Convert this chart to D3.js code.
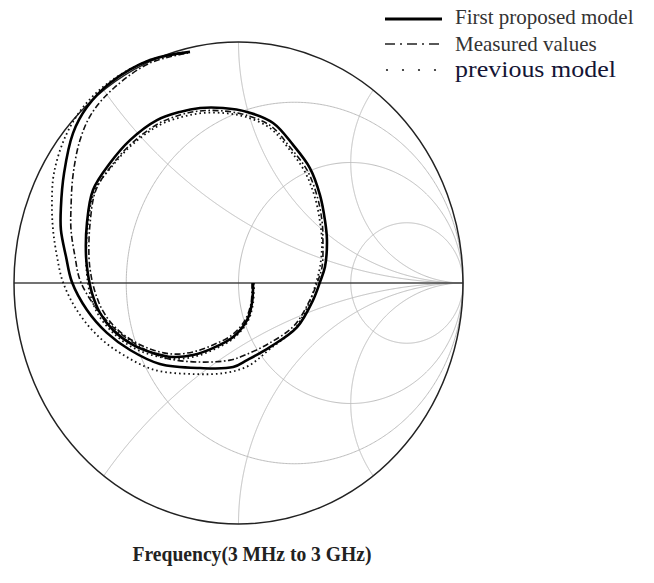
<!DOCTYPE html>
<html><head><meta charset="utf-8">
<script src="https://cdn.jsdelivr.net/npm/d3@7"></script>
<style>body{margin:0;background:#fff}svg{display:block}</style>
</head><body>
<svg id="c" width="654" height="583"></svg>
<script>
// ---- grid values (normalized impedance) ----
const resistanceValues = [1/3, 1, 3];
const reactanceValues = [0.5, 1, 2, -0.5, -1, -2];

// ---- legend / title text ----
const seriesNames = ["First proposed model", "Measured values", "previous model"];
const titleText = "Frequency(3 MHz to 3 GHz)";

// ---- reflection coefficient samples [Re(Γ), Im(Γ)], 3 MHz -> 3 GHz ----
const proposedModel = [
 [0.065,0.000],[0.060,-0.083],[0.038,-0.154],[-0.024,-0.224],[-0.114,-0.270],[-0.203,-0.299],
 [-0.292,-0.307],[-0.381,-0.290],[-0.470,-0.257],[-0.559,-0.195],[-0.617,-0.124],[-0.653,-0.041],
 [-0.670,0.033],[-0.679,0.108],[-0.675,0.249],[-0.648,0.386],[-0.572,0.498],[-0.483,0.593],
 [-0.363,0.676],[-0.261,0.710],[-0.171,0.726],[-0.069,0.726],[0.038,0.710],[0.154,0.664],
 [0.243,0.573],[0.318,0.477],[0.363,0.365],[0.385,0.261],[0.394,0.178],[0.385,0.066],
 [0.363,0.004],[0.332,-0.071],[0.261,-0.183],[0.140,-0.266],[0.038,-0.320],[-0.024,-0.349],
 [-0.171,-0.353],[-0.350,-0.336],[-0.483,-0.278],[-0.586,-0.207],[-0.675,-0.112],[-0.742,0.004],
 [-0.768,0.108],[-0.791,0.220],[-0.791,0.315],[-0.777,0.456],[-0.737,0.622],[-0.675,0.730],
 [-0.572,0.830],[-0.394,0.925],[-0.216,0.959]
];
const measuredValues = [
 [0.060,0.000],[0.056,-0.083],[0.029,-0.154],[-0.029,-0.216],[-0.114,-0.257],[-0.203,-0.286],
 [-0.292,-0.295],[-0.381,-0.278],[-0.461,-0.245],[-0.546,-0.187],[-0.604,-0.116],[-0.639,-0.037],
 [-0.657,0.033],[-0.666,0.108],[-0.661,0.249],[-0.635,0.386],[-0.563,0.490],[-0.474,0.581],
 [-0.359,0.660],[-0.261,0.697],[-0.171,0.714],[-0.069,0.714],[0.033,0.697],[0.145,0.651],
 [0.229,0.564],[0.305,0.469],[0.350,0.361],[0.372,0.257],[0.376,0.178],[0.372,0.066],
 [0.350,0.000],[0.318,-0.071],[0.247,-0.178],[0.131,-0.253],[0.029,-0.299],[-0.038,-0.320],
 [-0.171,-0.328],[-0.327,-0.311],[-0.452,-0.257],[-0.554,-0.187],[-0.644,-0.091],[-0.706,0.012],
 [-0.728,0.108],[-0.746,0.220],[-0.746,0.315],[-0.737,0.448],[-0.706,0.593],[-0.653,0.705],
 [-0.555,0.809],[-0.394,0.913],[-0.225,0.954]
];
const previousModel = [
 [0.069,0.000],[0.065,-0.083],[0.042,-0.158],[-0.020,-0.228],[-0.114,-0.278],[-0.203,-0.307],
 [-0.292,-0.315],[-0.385,-0.299],[-0.474,-0.266],[-0.563,-0.203],[-0.626,-0.129],[-0.661,-0.046],
 [-0.675,0.033],[-0.679,0.108],[-0.670,0.249],[-0.639,0.386],[-0.563,0.485],[-0.470,0.577],
 [-0.350,0.656],[-0.252,0.689],[-0.163,0.705],[-0.065,0.705],[0.033,0.689],[0.140,0.643],
 [0.225,0.556],[0.296,0.461],[0.341,0.353],[0.363,0.253],[0.372,0.170],[0.363,0.066],
 [0.345,0.000],[0.318,-0.075],[0.252,-0.187],[0.140,-0.274],[0.042,-0.345],[-0.060,-0.373],
 [-0.194,-0.378],[-0.372,-0.361],[-0.505,-0.303],[-0.617,-0.228],[-0.715,-0.120],[-0.782,0.004],
 [-0.808,0.108],[-0.826,0.220],[-0.831,0.324],[-0.822,0.456],[-0.768,0.614],[-0.684,0.739],
 [-0.563,0.842],[-0.394,0.925],[-0.225,0.959]
];

const svg = d3.select("#c");
const x = d3.scaleLinear().domain([-1, 1]).range([14, 463]);
const y = d3.scaleLinear().domain([-1, 1]).range([524, 42]);
const line = d3.line().x(d => x(d[0])).y(d => y(d[1]));

function gammaOf(r, xx) {
  const den = (r + 1) * (r + 1) + xx * xx;
  return [(r * r - 1 + xx * xx) / den, (2 * xx) / den];
}

const grid = svg.append("g").attr("fill", "none").attr("stroke", "#bdbdbd").attr("stroke-width", 1);
// constant resistance circles
resistanceValues.forEach(r => {
  const pts = d3.range(0, 721).map(i => {
    const t = i / 720 * 2 * Math.PI;
    return [r / (1 + r) + Math.cos(t) / (1 + r), Math.sin(t) / (1 + r)];
  });
  grid.append("path").attr("d", line(pts));
});
// constant reactance arcs
reactanceValues.forEach(xv => {
  const pts = d3.range(0, 600).map(i => {
    const th = i / 600 * (Math.PI / 2 - 0.0005);
    return gammaOf(Math.tan(th), xv);
  });
  pts.push([1, 0]);
  grid.append("path").attr("d", line(pts));
});

// real axis
svg.append("line").attr("x1", x(-1)).attr("x2", x(1)).attr("y1", y(0)).attr("y2", y(0))
  .attr("stroke", "#444").attr("stroke-width", 1.5);
// outer boundary |Γ| = 1
svg.append("ellipse").attr("cx", x(0)).attr("cy", y(0))
  .attr("rx", x(1) - x(0)).attr("ry", y(-1) - y(0))
  .attr("fill", "none").attr("stroke", "#222").attr("stroke-width", 1.5);

const curve = d3.line().x(d => x(d[0])).y(d => y(d[1])).curve(d3.curveCatmullRom.alpha(0.5));
svg.append("path").attr("d", curve(previousModel)).attr("fill", "none")
  .attr("stroke", "#111").attr("stroke-width", 1.8).attr("stroke-dasharray", "1.6,3");
svg.append("path").attr("d", curve(measuredValues)).attr("fill", "none")
  .attr("stroke", "#111").attr("stroke-width", 1.6).attr("stroke-dasharray", "6,2.5,1.6,2.5");
svg.append("path").attr("d", curve(proposedModel)).attr("fill", "none")
  .attr("stroke", "#000").attr("stroke-width", 2.6).attr("stroke-linejoin", "round");

// legend
const lg = svg.append("g");
lg.append("line").attr("x1", 385).attr("x2", 442).attr("y1", 19).attr("y2", 19)
  .attr("stroke", "#000").attr("stroke-width", 3);
lg.append("line").attr("x1", 385).attr("x2", 442).attr("y1", 44).attr("y2", 44)
  .attr("stroke", "#222").attr("stroke-width", 1.3).attr("stroke-dasharray", "10,5,2,5");
[387, 403, 419, 435].forEach(cx => lg.append("circle").attr("cx", cx).attr("cy", 70).attr("r", 1.1).attr("fill", "#222"));
const legendText = [
  {t: seriesNames[0], y: 24, s: 21, sy: 1, c: "#333"},
  {t: seriesNames[1], y: 51, s: 21, sy: 1, c: "#333"},
  {t: seriesNames[2], y: 77, s: 26, sy: 0.9, c: "#151535"}
];
legendText.forEach(d => {
  lg.append("text").attr("transform", `translate(455,${d.y}) scale(1,${d.sy})`)
    .attr("font-family", "'Liberation Serif', 'Times New Roman', serif")
    .attr("font-size", d.s).attr("fill", d.c).text(d.t);
});

svg.append("text").attr("transform", "translate(252,561) scale(1,1.07)")
  .attr("text-anchor", "middle")
  .attr("font-family", "'Liberation Serif', 'Times New Roman', serif")
  .attr("font-weight", "bold").attr("font-size", 19.6).attr("fill", "#222").text(titleText);
</script>
</body></html>
